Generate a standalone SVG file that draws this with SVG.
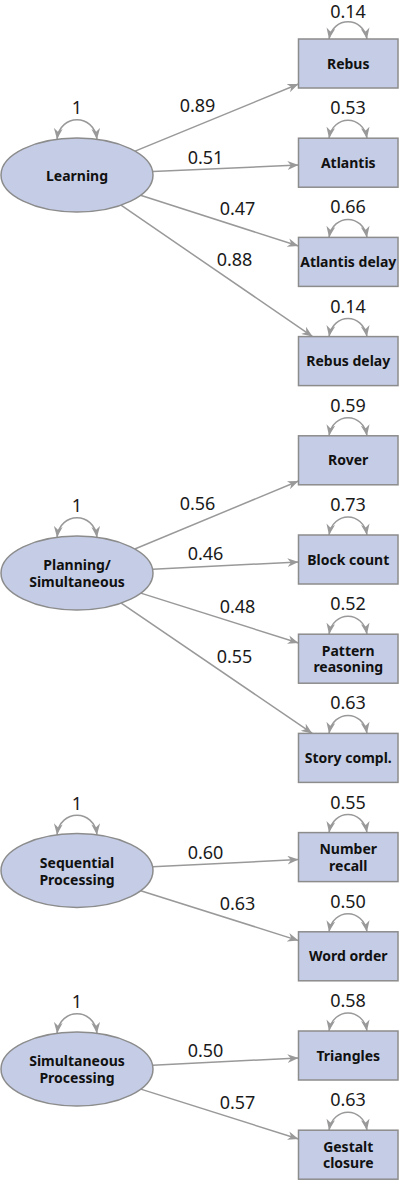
<svg xmlns="http://www.w3.org/2000/svg" width="400" height="1181" viewBox="0 0 400 1181">
<style>
.bg{fill:#ffffff}
.obs{fill:#c5cde6;stroke:#8c8c8c;stroke-width:1.5}
.lat{fill:#c5cde6;stroke:#8c8c8c;stroke-width:1.5}
.lbl{font-family:"Noto Sans","Open Sans","DejaVu Sans",sans-serif;font-weight:bold;font-size:14px;fill:#111111;text-anchor:middle}
.num{font-family:"Noto Sans","Open Sans","DejaVu Sans",sans-serif;font-size:18px;fill:#1a1a1a;text-anchor:middle}
.edge{fill:none;stroke:#999999;stroke-width:1.5;marker-end:url(#ah)}
.loop{fill:none;stroke:#999999;stroke-width:1.5;marker-end:url(#ah);marker-start:url(#ah)}
</style>
<defs>
<marker id="ah" viewBox="0 0 10 8" refX="10" refY="4" markerWidth="11" markerHeight="9" markerUnits="userSpaceOnUse" orient="auto-start-reverse">
<path d="M0,0 L10,4 L0,8 L3,4 z" fill="#999999"/>
</marker>
</defs>
<rect class="bg" x="0" y="0" width="400" height="1181"/>

<g id="connectors">
<path class="edge" d="M135.1,151.1 L298.5,84"/>
<path class="edge" d="M152.7,171.6 L298.5,165"/>
<path class="edge" d="M140.5,195.3 L298.5,246"/>
<path class="edge" d="M121,205.2 L312.6,336.6"/>
<path class="edge" d="M134.8,549 L298.5,481"/>
<path class="edge" d="M152.6,569.2 L298.5,562"/>
<path class="edge" d="M140.8,593.1 L298.5,643"/>
<path class="edge" d="M121.2,603.1 L312.3,733.4"/>
<path class="edge" d="M152.6,866.8 L298.5,859.6"/>
<path class="edge" d="M140.7,890.7 L298.5,940.6"/>
<path class="edge" d="M152.6,1065.2 L298.5,1058"/>
<path class="edge" d="M140.8,1089.1 L298.5,1139"/>
<text class="num" x="197.5" y="112">0.89</text>
<text class="num" x="205.5" y="164">0.51</text>
<text class="num" x="237.5" y="215">0.47</text>
<text class="num" x="234.5" y="266">0.88</text>
<text class="num" x="197.5" y="509.5">0.56</text>
<text class="num" x="205.5" y="560">0.46</text>
<text class="num" x="237.5" y="612.5">0.48</text>
<text class="num" x="234.5" y="663">0.55</text>
<text class="num" x="205.5" y="858.5">0.60</text>
<text class="num" x="237.5" y="910">0.63</text>
<text class="num" x="205.5" y="1057">0.50</text>
<text class="num" x="237.5" y="1108.5">0.57</text>
<path class="loop" d="M57,139.3 C60,113.3 94,113.3 97,139.3"/>
<path class="loop" d="M57,537.3 C60,511.3 94,511.3 97,537.3"/>
<path class="loop" d="M57,834.8 C60,808.8 94,808.8 97,834.8"/>
<path class="loop" d="M57,1033.3 C60,1007.3 94,1007.3 97,1033.3"/>
<text class="num" x="77" y="114">1</text>
<text class="num" x="77" y="512">1</text>
<text class="num" x="77" y="809.5">1</text>
<text class="num" x="77" y="1008">1</text>
<path class="loop" d="M329,39 C333,16 363,16 367,39"/>
<path class="loop" d="M329,138.2 C333,114.2 363,114.2 367,138.2"/>
<path class="loop" d="M329,237.4 C333,213.4 363,213.4 367,237.4"/>
<path class="loop" d="M329,336.6 C333,312.6 363,312.6 367,336.6"/>
<path class="loop" d="M329,435.8 C333,411.8 363,411.8 367,435.8"/>
<path class="loop" d="M329,535 C333,511 363,511 367,535"/>
<path class="loop" d="M329,634.2 C333,610.2 363,610.2 367,634.2"/>
<path class="loop" d="M329,733.4 C333,709.4 363,709.4 367,733.4"/>
<path class="loop" d="M329,832.6 C333,808.6 363,808.6 367,832.6"/>
<path class="loop" d="M329,931.8 C333,907.8 363,907.8 367,931.8"/>
<path class="loop" d="M329,1031 C333,1007 363,1007 367,1031"/>
<path class="loop" d="M329,1130.2 C333,1106.2 363,1106.2 367,1130.2"/>
<text class="num" x="348" y="17.5">0.14</text>
<text class="num" x="348" y="114.2">0.53</text>
<text class="num" x="348" y="213.4">0.66</text>
<text class="num" x="348" y="312.6">0.14</text>
<text class="num" x="348" y="411.8">0.59</text>
<text class="num" x="348" y="511">0.73</text>
<text class="num" x="348" y="610.2">0.52</text>
<text class="num" x="348" y="709.4">0.63</text>
<text class="num" x="348" y="808.6">0.55</text>
<text class="num" x="348" y="907.8">0.50</text>
<text class="num" x="348" y="1007">0.58</text>
<text class="num" x="348" y="1106.2">0.63</text>
</g>

<g id="learning"><ellipse class="lat" cx="77" cy="175" rx="76" ry="37"/><text class="lbl" x="77" y="181">Learning</text></g>
<g id="planning"><ellipse class="lat" cx="77" cy="573" rx="76" ry="37"/><text class="lbl" x="77" y="570">Planning/</text><text class="lbl" x="77" y="587">Simultaneous</text></g>
<g id="sequential"><ellipse class="lat" cx="77" cy="870.5" rx="76" ry="37"/><text class="lbl" x="77" y="867.5">Sequential</text><text class="lbl" x="77" y="884.5">Processing</text></g>
<g id="simultaneous"><ellipse class="lat" cx="77" cy="1069" rx="76" ry="37"/><text class="lbl" x="77" y="1066">Simultaneous</text><text class="lbl" x="77" y="1083">Processing</text></g>

<g id="rebus"><rect class="obs" x="298.5" y="39" width="99.5" height="49"/><text class="lbl" x="348.25" y="68.5">Rebus</text></g>
<g id="atlantis"><rect class="obs" x="298.5" y="138.2" width="99.5" height="49"/><text class="lbl" x="348.25" y="167.7">Atlantis</text></g>
<g id="atlantis-delay"><rect class="obs" x="298.5" y="237.4" width="99.5" height="49"/><text class="lbl" x="348.25" y="266.9">Atlantis delay</text></g>
<g id="rebus-delay"><rect class="obs" x="298.5" y="336.6" width="99.5" height="49"/><text class="lbl" x="348.25" y="366.1">Rebus delay</text></g>
<g id="rover"><rect class="obs" x="298.5" y="435.8" width="99.5" height="49"/><text class="lbl" x="348.25" y="465.3">Rover</text></g>
<g id="block-count"><rect class="obs" x="298.5" y="535" width="99.5" height="49"/><text class="lbl" x="348.25" y="564.5">Block count</text></g>
<g id="pattern-reasoning"><rect class="obs" x="298.5" y="634.2" width="99.5" height="49"/><text class="lbl" x="348.25" y="655.7">Pattern</text><text class="lbl" x="348.25" y="672.4">reasoning</text></g>
<g id="story-compl"><rect class="obs" x="298.5" y="733.4" width="99.5" height="49"/><text class="lbl" x="348.25" y="762.9">Story compl.</text></g>
<g id="number-recall"><rect class="obs" x="298.5" y="832.6" width="99.5" height="49"/><text class="lbl" x="348.25" y="854.1">Number</text><text class="lbl" x="348.25" y="870.8">recall</text></g>
<g id="word-order"><rect class="obs" x="298.5" y="931.8" width="99.5" height="49"/><text class="lbl" x="348.25" y="961.3">Word order</text></g>
<g id="triangles"><rect class="obs" x="298.5" y="1031" width="99.5" height="49"/><text class="lbl" x="348.25" y="1060.5">Triangles</text></g>
<g id="gestalt-closure"><rect class="obs" x="298.5" y="1130.2" width="99.5" height="49"/><text class="lbl" x="348.25" y="1151.7">Gestalt</text><text class="lbl" x="348.25" y="1168.4">closure</text></g>
</svg>
